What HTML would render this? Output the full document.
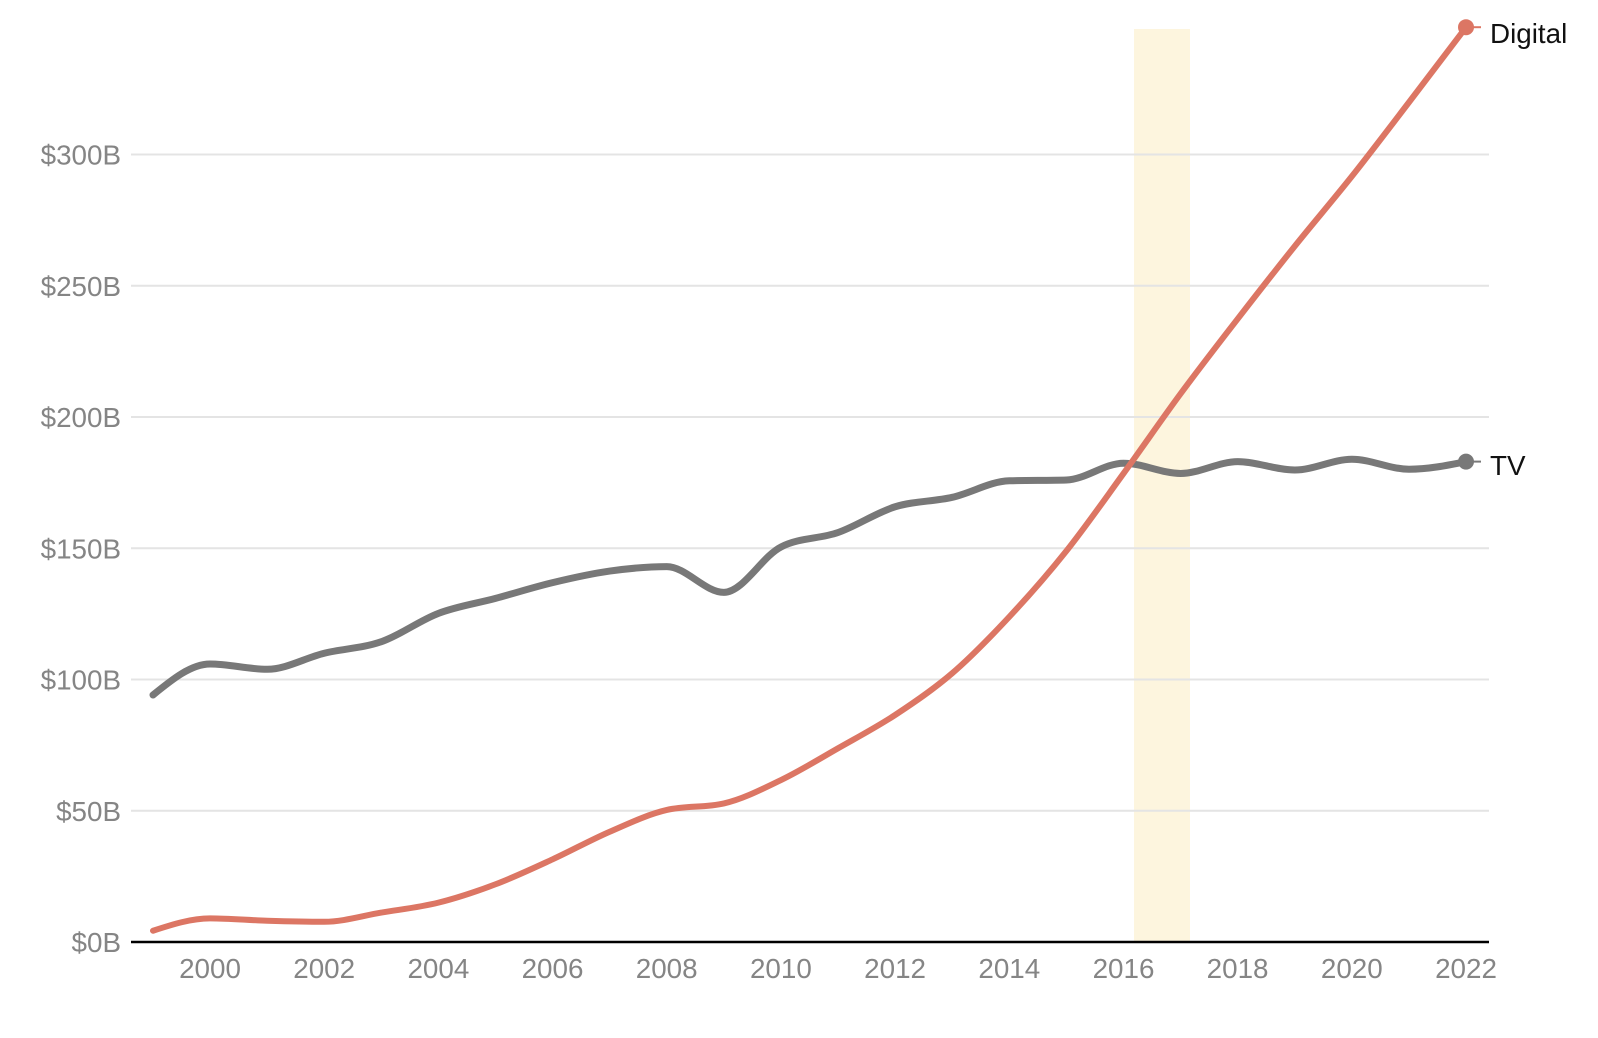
<!DOCTYPE html>
<html>
<head>
<meta charset="utf-8">
<style>
  html, body { margin: 0; padding: 0; background: #fff; }
  svg { display: block; }
  text { font-family: "Liberation Sans", Arial, sans-serif; }
</style>
</head>
<body>
<svg id="chart" width="1598" height="1038" viewBox="0 0 1598 1038" xmlns="http://www.w3.org/2000/svg">
  <rect x="0" y="0" width="1598" height="1038" fill="#ffffff"/>
  <!-- highlight band -->
  <rect x="1134" y="29" width="56" height="913" fill="#fdf5de"/>
  <!-- gridlines -->
  <g stroke="#e4e4e4" stroke-width="2">
    <line x1="131" y1="154.5" x2="1489" y2="154.5"/>
    <line x1="131" y1="285.75" x2="1489" y2="285.75"/>
    <line x1="131" y1="417" x2="1489" y2="417"/>
    <line x1="131" y1="548.25" x2="1489" y2="548.25"/>
    <line x1="131" y1="679.5" x2="1489" y2="679.5"/>
    <line x1="131" y1="810.75" x2="1489" y2="810.75"/>
  </g>
  <!-- y labels -->
  <g fill="#858585" font-size="27.8" text-anchor="end">
    <text x="121" y="164.5">$300B</text>
    <text x="121" y="295.75">$250B</text>
    <text x="121" y="427">$200B</text>
    <text x="121" y="558.25">$150B</text>
    <text x="121" y="689.5">$100B</text>
    <text x="121" y="820.75">$50B</text>
    <text x="121" y="952">$0B</text>
  </g>
  <!-- x labels -->
  <g fill="#858585" font-size="27.8" text-anchor="middle">
    <text x="210" y="978">2000</text>
    <text x="324.2" y="978">2002</text>
    <text x="438.4" y="978">2004</text>
    <text x="552.5" y="978">2006</text>
    <text x="666.7" y="978">2008</text>
    <text x="780.9" y="978">2010</text>
    <text x="895.1" y="978">2012</text>
    <text x="1009.3" y="978">2014</text>
    <text x="1123.5" y="978">2016</text>
    <text x="1237.6" y="978">2018</text>
    <text x="1351.8" y="978">2020</text>
    <text x="1466" y="978">2022</text>
  </g>
  <!-- axis -->
  <line x1="131" y1="942" x2="1489" y2="942" stroke="#000" stroke-width="2.5"/>
  <!-- series -->
  <path id="tv" d="" fill="none" stroke="#787878" stroke-width="7" stroke-linecap="round" stroke-linejoin="round"/>
  <path id="dig" d="" fill="none" stroke="#dc7664" stroke-width="6" stroke-linecap="round" stroke-linejoin="round"/>
  <!-- end markers -->
  <line x1="1466" y1="27.2" x2="1481" y2="27.2" stroke="#dc7664" stroke-width="2"/>
  <circle cx="1466" cy="27.2" r="8" fill="#dc7664"/>
  <line x1="1466" y1="461.6" x2="1481" y2="461.6" stroke="#787878" stroke-width="2"/>
  <circle cx="1466" cy="461.6" r="8" fill="#787878"/>
  <text x="1490" y="43" font-size="27.8" fill="#111">Digital</text>
  <text x="1490" y="475" font-size="27.8" fill="#111">TV</text>
</svg>
<script>
(function(){
  var x0 = 153, dx = 57.0909;
  function X(i){ return x0 + i*dx; }
  function Y(v){ return 942 - v*2.625; }
  var tv = [94.1,105.9,103.9,110,114.4,125.2,130.9,136.9,141.3,143,133.2,150.5,156,165.8,169.4,175.7,176,182.4,178.5,183,179.8,183.9,180.1,183];
  var dig = [4.3,9.0,8.1,7.7,11.2,15,22,31.5,42,50.3,52.8,61.7,73.8,86.5,102.4,123.9,149,178.5,208.9,237.4,265.1,291.7,319.9,348.5];
  function sign(v){ return v < 0 ? -1 : 1; }
  function monotone(vals){
    var pts = vals.map(function(v,i){ return [X(i), Y(v)]; });
    var n = pts.length, t = new Array(n), i;
    for (i = 1; i < n-1; i++){
      var h0 = pts[i][0]-pts[i-1][0], h1 = pts[i+1][0]-pts[i][0];
      var s0 = (pts[i][1]-pts[i-1][1])/h0, s1 = (pts[i+1][1]-pts[i][1])/h1;
      var p = (s0*h1 + s1*h0)/(h0+h1);
      t[i] = (sign(s0)+sign(s1)) * Math.min(Math.abs(s0), Math.abs(s1), 0.5*Math.abs(p)) || 0;
    }
    var hA = pts[1][0]-pts[0][0];
    t[0] = (3*(pts[1][1]-pts[0][1])/hA - t[1])/2;
    var hB = pts[n-1][0]-pts[n-2][0];
    t[n-1] = (3*(pts[n-1][1]-pts[n-2][1])/hB - t[n-2])/2;
    var d = "M" + pts[0][0].toFixed(2) + "," + pts[0][1].toFixed(2);
    for (i = 0; i < n-1; i++){
      var a = pts[i], b = pts[i+1], h = (b[0]-a[0])/3;
      d += "C" + (a[0]+h).toFixed(2) + "," + (a[1]+h*t[i]).toFixed(2) + " " +
           (b[0]-h).toFixed(2) + "," + (b[1]-h*t[i+1]).toFixed(2) + " " +
           b[0].toFixed(2) + "," + b[1].toFixed(2);
    }
    return d;
  }
  function poly(vals){
    return "M" + vals.map(function(v,i){ return X(i).toFixed(2)+","+Y(v).toFixed(2); }).join("L");
  }
  var tvEl = document.getElementById("tv"), dgEl = document.getElementById("dig");
  tvEl.setAttribute("d", poly(tv));
  dgEl.setAttribute("d", poly(dig));
  try {
    tvEl.setAttribute("d", monotone(tv));
    dgEl.setAttribute("d", monotone(dig));
  } catch(e) {}
})();
</script>
</body>
</html>
